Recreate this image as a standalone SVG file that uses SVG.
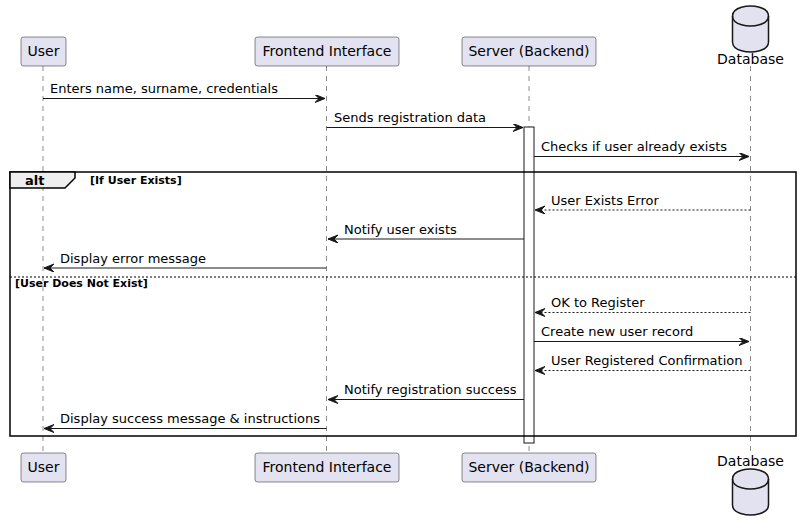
<svg xmlns="http://www.w3.org/2000/svg" width="802" height="530" viewBox="0 0 802 530">
<style>
.bg{fill:#ffffff}
.life{stroke:#181818;stroke-width:0.5;stroke-dasharray:5,5;fill:none}
.part{fill:#E2E2F0;stroke:#181818;stroke-width:0.5}
.ptxt{font-family:"DejaVu Sans",sans-serif;font-size:14px;fill:#000}
.msg{stroke:#181818;stroke-width:1;fill:none}
.ret{stroke:#181818;stroke-width:1;fill:none;stroke-dasharray:2,2}
.mtxt{font-family:"DejaVu Sans",sans-serif;font-size:13px;fill:#000}
.head{fill:#181818;stroke:#181818;stroke-width:1}
.act{fill:#ffffff;stroke:#181818;stroke-width:1}
.frame{fill:none;stroke:#000;stroke-width:1.5}
.db{fill:#E2E2F0;stroke:#181818;stroke-width:1.5}
</style>
<defs>
<marker id="ah" markerWidth="12" markerHeight="10" refX="10" refY="4" orient="auto" markerUnits="userSpaceOnUse">
<polygon points="0,0 10,4 0,8 4,4" class="head"/>
</marker>
</defs>
<rect class="bg" x="0" y="0" width="802" height="530"/>

<g id="lifelines">
<line class="life" x1="43" y1="66" x2="43" y2="453"/>
<line class="life" x1="326.5" y1="66" x2="326.5" y2="453"/>
<line class="life" x1="529" y1="66" x2="529" y2="453"/>
<line class="life" x1="750.5" y1="66" x2="750.5" y2="453"/>
</g>

<g id="activation">
<rect class="act" x="524" y="127" width="10" height="316"/>
</g>

<g id="alt-frame">
<rect class="frame" x="10" y="172" width="786" height="264"/>
<polygon points="10,172 75,172 75,178 65,188 10,188" fill="#EEEEEE" stroke="#000" stroke-width="1.5"/>
<text x="25" y="185" font-family="DejaVu Sans, sans-serif" font-size="13px" font-weight="bold">alt</text>
<text x="90" y="184" font-family="DejaVu Sans, sans-serif" font-size="11px" font-weight="bold">[If User Exists]</text>
<line x1="10" y1="277" x2="796" y2="277" stroke="#000" stroke-width="1" stroke-dasharray="2,2"/>
<text x="15" y="287" font-family="DejaVu Sans, sans-serif" font-size="11px" font-weight="bold">[User Does Not Exist]</text>
</g>

<g id="node-user-top"><rect class="part" x="21" y="37" width="45" height="29" rx="2.5"/><text class="ptxt" x="43.5" y="56" text-anchor="middle">User</text></g>
<g id="node-frontend-top"><rect class="part" x="255" y="37" width="144" height="29" rx="2.5"/><text class="ptxt" x="327" y="56" text-anchor="middle">Frontend Interface</text></g>
<g id="node-server-top"><rect class="part" x="462" y="37" width="134" height="29" rx="2.5"/><text class="ptxt" x="529" y="56" text-anchor="middle">Server (Backend)</text></g>
<g id="node-db-top">
<path class="db" d="M732.5,16 C732.5,6 750.5,6 750.5,6 C750.5,6 768.5,6 768.5,16 L768.5,42 C768.5,52 750.5,52 750.5,52 C750.5,52 732.5,52 732.5,42 Z"/>
<path d="M732.5,16 C732.5,26 750.5,26 750.5,26 C750.5,26 768.5,26 768.5,16" fill="none" stroke="#181818" stroke-width="1.5"/>
<text class="ptxt" x="750.5" y="64" text-anchor="middle">Database</text>
</g>

<g id="node-user-bottom"><rect class="part" x="21" y="453" width="45" height="29" rx="2.5"/><text class="ptxt" x="43.5" y="472" text-anchor="middle">User</text></g>
<g id="node-frontend-bottom"><rect class="part" x="255" y="453" width="144" height="29" rx="2.5"/><text class="ptxt" x="327" y="472" text-anchor="middle">Frontend Interface</text></g>
<g id="node-server-bottom"><rect class="part" x="462" y="453" width="134" height="29" rx="2.5"/><text class="ptxt" x="529" y="472" text-anchor="middle">Server (Backend)</text></g>
<g id="node-db-bottom">
<text class="ptxt" x="750.5" y="466" text-anchor="middle">Database</text>
<path class="db" d="M732.5,479 C732.5,469 750.5,469 750.5,469 C750.5,469 768.5,469 768.5,479 L768.5,505 C768.5,515 750.5,515 750.5,515 C750.5,515 732.5,515 732.5,505 Z"/>
<path d="M732.5,479 C732.5,489 750.5,489 750.5,489 C750.5,489 768.5,489 768.5,479" fill="none" stroke="#181818" stroke-width="1.5"/>
</g>

<g id="connectors">
<line class="msg" x1="43" y1="98.5" x2="325" y2="98.5" marker-end="url(#ah)"/>
<text class="mtxt" x="50" y="93">Enters name, surname, credentials</text>

<line class="msg" x1="326.5" y1="127.5" x2="523" y2="127.5" marker-end="url(#ah)"/>
<text class="mtxt" x="334" y="122">Sends registration data</text>

<line class="msg" x1="534" y1="156.5" x2="749" y2="156.5" marker-end="url(#ah)"/>
<text class="mtxt" x="541" y="151">Checks if user already exists</text>

<line class="ret" x1="750.5" y1="210" x2="535" y2="210" marker-end="url(#ah)"/>
<text class="mtxt" x="551" y="205">User Exists Error</text>

<line class="msg" x1="524" y1="239" x2="328" y2="239" marker-end="url(#ah)"/>
<text class="mtxt" x="344" y="234">Notify user exists</text>

<line class="msg" x1="326.5" y1="268" x2="44" y2="268" marker-end="url(#ah)"/>
<text class="mtxt" x="60" y="263">Display error message</text>

<line class="ret" x1="750.5" y1="312.5" x2="535" y2="312.5" marker-end="url(#ah)"/>
<text class="mtxt" x="551" y="307">OK to Register</text>

<line class="msg" x1="534" y1="341.5" x2="749" y2="341.5" marker-end="url(#ah)"/>
<text class="mtxt" x="541" y="336">Create new user record</text>

<line class="ret" x1="750.5" y1="370.5" x2="535" y2="370.5" marker-end="url(#ah)"/>
<text class="mtxt" x="551" y="365">User Registered Confirmation</text>

<line class="msg" x1="524" y1="399.5" x2="328" y2="399.5" marker-end="url(#ah)"/>
<text class="mtxt" x="344" y="394">Notify registration success</text>

<line class="msg" x1="326.5" y1="428.5" x2="44" y2="428.5" marker-end="url(#ah)"/>
<text class="mtxt" x="60" y="423">Display success message &amp; instructions</text>
</g>
</svg>
